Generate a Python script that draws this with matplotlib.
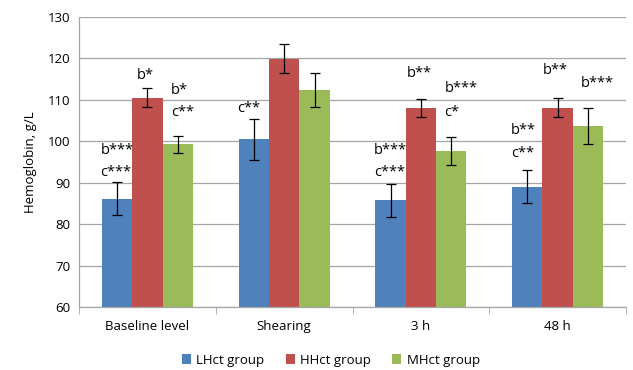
import numpy as np
import matplotlib
matplotlib.use("Agg")
import matplotlib.pyplot as plt

plt.rcParams['font.family'] = ['Open Sans', 'DejaVu Sans']

categories = ["Baseline level", "Shearing", "3 h", "48 h"]
groups = ["LHct group", "HHct group", "MHct group"]
colors = ["#4F81BD", "#C0504D", "#9BBB59"]

lhct = [86.2, 100.5, 85.8, 89.1]
lhct_err = [4.0, 5.0, 4.0, 4.0]
hhct = [110.5, 119.9, 108.1, 108.1]
hhct_err = [2.3, 3.5, 2.2, 2.3]
mhct = [99.3, 112.3, 97.7, 103.7]
mhct_err = [2.0, 4.1, 3.4, 4.3]

# (category index, group index, text, y)
labels = [
    (0, 0, "b***", 97.7), (0, 0, "c***", 92.6),
    (0, 1, "b*", 116.0),
    (0, 2, "b*", 112.3), (0, 2, "c**", 107.0),
    (1, 0, "c**", 108.0),
    (2, 0, "b***", 97.7), (2, 0, "c***", 92.6),
    (2, 1, "b**", 116.3),
    (2, 2, "b***", 112.8), (2, 2, "c*", 107.0),
    (3, 0, "b**", 102.7), (3, 0, "c**", 97.0),
    (3, 1, "b**", 117.0),
    (3, 2, "b***", 113.9),
]

fig = plt.figure(figsize=(6.33, 3.70), dpi=100)
ax = fig.add_axes([0.125, 0.17, 0.864, 0.784])

x = np.arange(len(categories))
w = 0.222
for i, (vals, errs) in enumerate([(lhct, lhct_err), (hhct, hhct_err), (mhct, mhct_err)]):
    ax.bar(x + (i - 1) * w, vals, w, color=colors[i], label=groups[i], zorder=2)
    ax.errorbar(x + (i - 1) * w, vals, yerr=errs, fmt='none', ecolor='black',
                elinewidth=0.9, capsize=3.5, capthick=0.9, zorder=3)

for ci, gi, txt, y in labels:
    if gi == 2:
        ax.text(x[ci] + w / 2 + 0.06, y, txt, ha='left', va='center', fontsize=10.5, zorder=4)
    elif gi == 0:
        ax.text(x[ci] - w - w / 2 - 0.01, y, txt, ha='left', va='center', fontsize=10.5, zorder=4)
    else:
        ax.text(x[ci] - 0.015, y, txt, ha='center', va='center', fontsize=10.5, zorder=4)

ax.set_xlim(-0.5, len(categories) - 0.5)
ax.set_ylim(60, 130)
ax.set_yticks(np.arange(60, 131, 10))
ax.yaxis.grid(True, color='#A6A6A6', linewidth=0.9, zorder=0)
ax.set_axisbelow(True)
ax.set_xticks(x)
ax.set_xticklabels(categories, fontsize=9.5)
ax.set_xticks(np.arange(-0.5, len(categories), 1), minor=True)
ax.tick_params(axis='x', which='major', length=0, pad=9)
ax.tick_params(axis='x', which='minor', length=5, color='#A6A6A6')
ax.tick_params(axis='y', length=0, labelsize=9.5, pad=6)
ax.set_ylabel("Hemoglobin, g/L", fontsize=9.5, labelpad=8)

for s in ['top', 'right']:
    ax.spines[s].set_visible(False)
for s in ['left', 'bottom']:
    ax.spines[s].set_color('#A6A6A6')
    ax.spines[s].set_linewidth(0.9)

ax.legend(loc='center', bbox_to_anchor=(0.46, -0.183), ncol=3, frameon=False,
          fontsize=9.5, handlelength=0.7, handleheight=0.7, handletextpad=0.4,
          columnspacing=1.6)

fig.savefig("out.png", dpi=100)
